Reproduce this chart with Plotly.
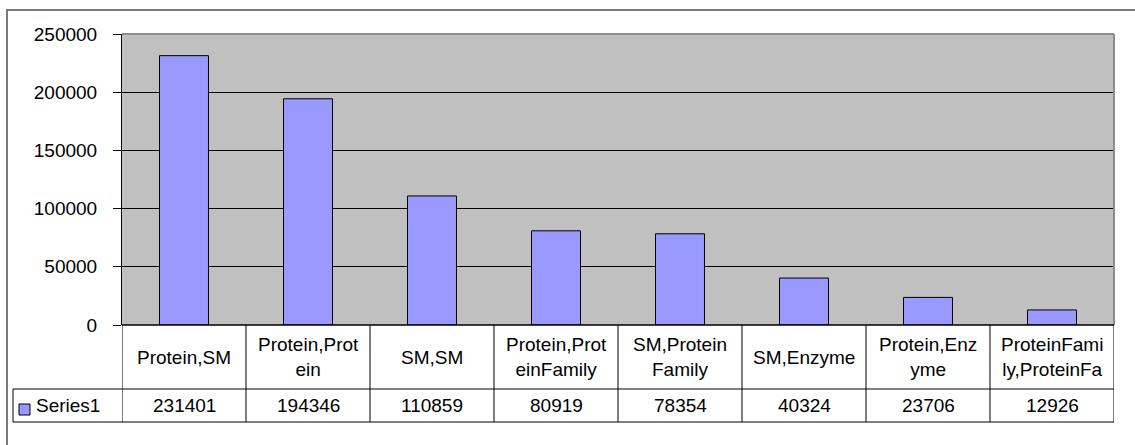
import plotly.graph_objects as go

categories = ["Protein,SM", "Protein,Protein", "SM,SM", "Protein,ProteinFamily",
              "SM,ProteinFamily", "SM,Enzyme", "Protein,Enzyme", "ProteinFamily,ProteinFamily"]
category_labels = ["Protein,SM", "Protein,Prot<br>ein", "SM,SM", "Protein,Prot<br>einFamily",
                   "SM,Protein<br>Family", "SM,Enzyme", "Protein,Enz<br>yme", "ProteinFami<br>ly,ProteinFa"]
values = [231401, 194346, 110859, 80919, 78354, 40324, 23706, 12926]
series_name = "Series1"
y_ticks = [0, 50000, 100000, 150000, 200000, 250000]

W, H = 1135, 445
L, R, T, B = 122, 1114, 34, 325  # plot area in pixels
FONT = "Liberation Sans, Arial, sans-serif"
FS = 19


def px_x(px):
    return (px - L) / (R - L)


def px_y(py):
    return (B - py) / (B - T)


fig = go.Figure(go.Bar(
    x=categories, y=values, name=series_name,
    marker=dict(color="#9999FF", line=dict(color="black", width=1)),
))

fig.update_layout(
    width=W, height=H, autosize=False,
    margin=dict(l=L, r=W - R, t=T, b=H - B, pad=0),
    paper_bgcolor="white", plot_bgcolor="#C0C0C0",
    bargap=0.605, showlegend=False,
    font=dict(family=FONT, size=FS, color="black"),
)
fig.update_xaxes(range=[-0.5, len(categories) - 0.5], showticklabels=False,
                 showgrid=False, zeroline=False, showline=False, fixedrange=True)
fig.update_yaxes(range=[0, 250000], tickvals=y_ticks, ticktext=[str(v) for v in y_ticks],
                 showgrid=True, gridcolor="black", gridwidth=1,
                 zeroline=False, showline=True, linecolor="black", linewidth=1,
                 ticks="outside", ticklen=8, tickcolor="black", ticklabelstandoff=12,
                 tickfont=dict(family=FONT, size=FS, color="black"))

shapes = []
# outer chart border
shapes.append(dict(type="rect", xref="paper", yref="paper",
                   x0=px_x(7), x1=px_x(1145), y0=px_y(10), y1=px_y(460),
                   line=dict(color="#7a7a7a", width=2), fillcolor="rgba(0,0,0,0)", layer="below"))
# plot area top and right border (gray)
shapes.append(dict(type="line", xref="paper", yref="paper", x0=0, x1=1, y0=1, y1=1,
                   line=dict(color="#8c8c8c", width=2)))
shapes.append(dict(type="line", xref="paper", yref="paper", x0=1, x1=1, y0=0, y1=1,
                   line=dict(color="#8c8c8c", width=2)))
# baseline
shapes.append(dict(type="line", xref="paper", yref="paper", x0=0, x1=1, y0=0, y1=0,
                   line=dict(color="black", width=1.5)))

row1_bottom = px_y(389)
row2_bottom = px_y(422)
row1_mid = px_y(357)
row2_mid = px_y(406)
# horizontal table lines
for yy in (row1_bottom, row2_bottom):
    shapes.append(dict(type="line", xref="paper", yref="paper", x0=px_x(13), x1=1, y0=yy, y1=yy,
                       line=dict(color="black", width=1)))
# legend cell left border
shapes.append(dict(type="line", xref="paper", yref="paper", x0=px_x(13), x1=px_x(13),
                   y0=row1_bottom, y1=row2_bottom, line=dict(color="black", width=1)))
# vertical column lines at category boundaries
for i in range(len(categories) + 1):
    shapes.append(dict(type="line", xref="x", yref="paper", x0=i - 0.5, x1=i - 0.5,
                       y0=0, y1=row2_bottom, line=dict(color="black", width=1)))
# legend key square
shapes.append(dict(type="rect", xref="paper", yref="paper",
                   x0=px_x(19), x1=px_x(30), y0=px_y(415), y1=px_y(404),
                   fillcolor="#9999FF", line=dict(color="black", width=1)))

annotations = []
for cat, lab, v in zip(categories, category_labels, values):
    annotations.append(dict(x=cat, y=row1_mid, xref="x", yref="paper", text=lab,
                            showarrow=False, xanchor="center", yanchor="middle",
                            font=dict(family=FONT, size=FS, color="black")))
    annotations.append(dict(x=cat, y=row2_mid, xref="x", yref="paper", text=str(v),
                            showarrow=False, xanchor="center", yanchor="middle",
                            font=dict(family=FONT, size=FS, color="black")))
annotations.append(dict(x=px_x(34), y=row2_mid, xref="paper", yref="paper", text=series_name,
                        showarrow=False, xanchor="left", yanchor="middle",
                        font=dict(family=FONT, size=FS, color="black")))

fig.update_layout(shapes=shapes, annotations=annotations)
fig.write_html("out.html", config={"displayModeBar": False},
               post_script="document.body.style.margin='0';")
